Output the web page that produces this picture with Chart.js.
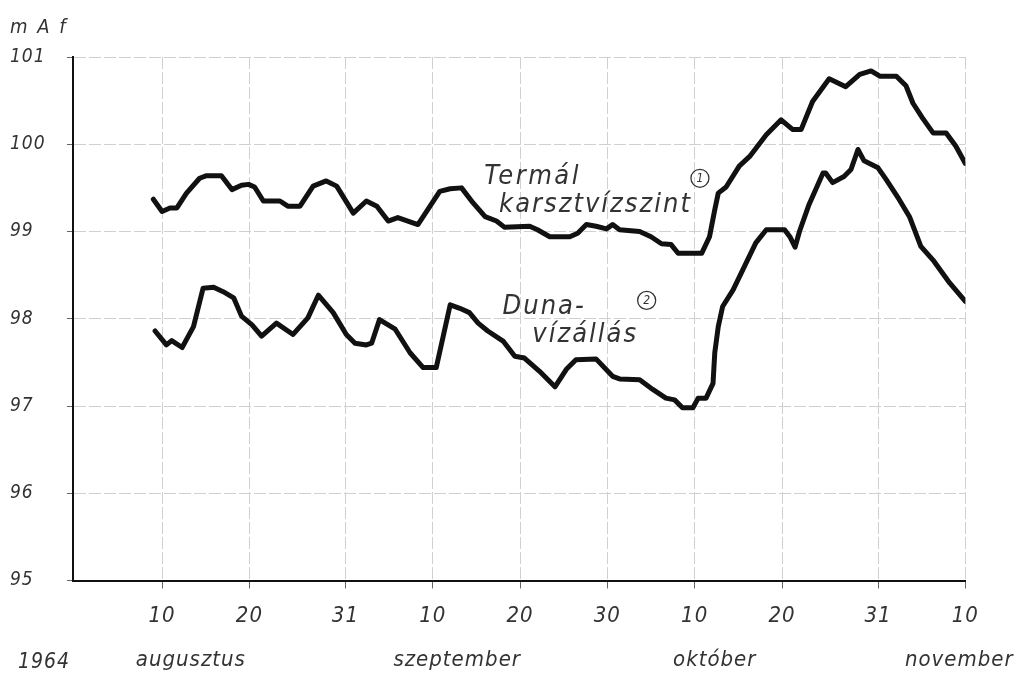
<!DOCTYPE html>
<html>
<head>
<meta charset="utf-8">
<title>Termál karsztvízszint és Duna-vízállás, 1964</title>
<script src="https://cdn.jsdelivr.net/npm/chart.js@4.4.1/dist/chart.umd.min.js"></script>
<style>
  html, body { margin: 0; padding: 0; background: #fff; }
  #wrap { width: 1023px; height: 675px; }
</style>
</head>
<body>
<div id="wrap"><canvas id="chart"></canvas></div>
<script>
// x = days counted from 10 August 1964
const tickDays   = [0, 10, 21, 31, 41, 51, 61, 71, 82, 92];
const tickLabels = ['10', '20', '31', '10', '20', '30', '10', '20', '31', '10'];
const monthDays   = [3.3, 33.8, 63.3, 91.3];
const monthLabels = ['augusztus', 'szeptember', 'október', 'november'];

// (1) Termál karsztvízszint, m A f
const thermDays = [-1, 0, 0.9, 1.7, 2.8, 4.3, 5.1, 6.8, 8.0, 9.1, 9.9, 10.6, 11.6, 13.5, 14.4,
  15.8, 17.3, 18.8, 20.0, 21.9, 23.4, 24.6, 25.9, 27.0, 29.3, 30.3, 31.8, 33.0, 34.3, 35.6,
  37.0, 38.3, 39.2, 42.1, 43.0, 44.4, 46.7, 47.6, 48.6, 49.7, 50.9, 51.6, 52.4, 54.7, 56.0,
  57.2, 58.3, 59.1, 61.8, 62.7, 63.3, 63.7, 64.6, 66.1, 67.3, 69.2, 70.9, 72.2, 73.2, 74.5,
  76.4, 78.3, 79.9, 81.2, 82.2, 84.1, 85.2, 86.0, 87.1, 88.3, 89.8, 90.9, 92];
const thermLevels = [99.37, 99.23, 99.27, 99.27, 99.44, 99.61, 99.64, 99.64, 99.48, 99.53, 99.54, 99.51, 99.35, 99.35, 99.29,
  99.29, 99.52, 99.58, 99.52, 99.21, 99.35, 99.29, 99.12, 99.16, 99.08, 99.23, 99.46, 99.49, 99.50, 99.33,
  99.17, 99.12, 99.05, 99.06, 99.02, 98.94, 98.94, 98.98, 99.08, 99.06, 99.03, 99.08, 99.02, 99.00, 98.94,
  98.86, 98.85, 98.75, 98.75, 98.94, 99.25, 99.44, 99.51, 99.75, 99.86, 100.11, 100.28, 100.17, 100.17, 100.49,
  100.75, 100.66, 100.80, 100.84, 100.78, 100.78, 100.67, 100.47, 100.30, 100.13, 100.13, 99.98, 99.78];

// (2) Duna-vízállás, m A f
const dunaDays = [-0.8, 0.5, 1.1, 2.3, 3.6, 4.7, 5.9, 7.0, 8.2, 9.1, 10.3, 11.4, 13.1, 15.0, 16.7,
  17.9, 19.6, 21.1, 22.1, 23.4, 24.0, 24.9, 26.7, 28.4, 29.9, 31.4, 32.2, 33.0, 34.1, 35.2,
  36.2, 37.3, 39.1, 40.4, 41.5, 43.2, 45.0, 46.3, 47.4, 49.7, 51.6, 52.4, 54.7, 56.2, 57.7,
  58.7, 59.6, 60.8, 61.4, 62.3, 63.1, 63.3, 63.7, 64.2, 65.4, 66.7, 68.0, 69.2, 71.3, 71.9,
  72.5, 73.0, 74.1, 75.7, 76.0, 76.8, 78.1, 78.9, 79.7, 80.4, 82.0, 82.9, 84.4, 85.6, 86.9,
  88.4, 90.2, 92];
const dunaLevels = [97.86, 97.70, 97.75, 97.67, 97.91, 98.35, 98.36, 98.31, 98.24, 98.03, 97.93, 97.80, 97.95, 97.82, 98.01,
  98.27, 98.07, 97.82, 97.72, 97.70, 97.72, 97.99, 97.88, 97.61, 97.44, 97.44, 97.80, 98.16, 98.12, 98.07,
  97.95, 97.86, 97.74, 97.57, 97.55, 97.40, 97.22, 97.42, 97.53, 97.54, 97.34, 97.31, 97.30, 97.19, 97.09,
  97.07, 96.98, 96.98, 97.09, 97.09, 97.26, 97.61, 97.91, 98.14, 98.33, 98.60, 98.87, 99.02, 99.02, 98.94,
  98.82, 99.00, 99.31, 99.67, 99.67, 99.56, 99.63, 99.71, 99.94, 99.81, 99.73, 99.60, 99.37, 99.17, 98.83,
  98.66, 98.41, 98.20];

const FONT = '"DejaVu Sans Condensed", "Liberation Sans Narrow", "DejaVu Sans", sans-serif';
const inkColor = '#333';
const gridColor = '#d0d0d0';

const toPoints = (xs, ys) => xs.map((d, i) => ({ x: d, y: ys[i] }));

// stencil lettering is spaced wide
const spacing = {
  id: 'spacing',
  beforeDraw(chart) { chart.ctx.letterSpacing = '1px'; }
};

// hand lettering placed on the plot (day, level anchors)
const notes = {
  id: 'notes',
  afterDatasetsDraw(chart) {
    const { ctx, scales: { x, y } } = chart;
    ctx.save();
    ctx.fillStyle = inkColor;
    ctx.strokeStyle = inkColor;
    ctx.textBaseline = 'alphabetic';
    ctx.font = 'italic 27px ' + FONT;
    ctx.letterSpacing = '2.5px';
    ctx.fillText('Termál', x.getPixelForValue(36.9), y.getPixelForValue(99.54));
    ctx.letterSpacing = '2px';
    ctx.fillText('karsztvízszint', x.getPixelForValue(38.6), y.getPixelForValue(99.22));
    ctx.fillText('Duna-', x.getPixelForValue(39.0), y.getPixelForValue(98.05));
    ctx.fillText('vízállás', x.getPixelForValue(42.4), y.getPixelForValue(97.73));
    ctx.letterSpacing = '0px';
    [[61.6, 99.61, '1'], [55.5, 98.21, '2']].forEach(([d, v, n]) => {
      const cx = x.getPixelForValue(d), cy = y.getPixelForValue(v);
      ctx.lineWidth = 1.3;
      ctx.beginPath();
      ctx.arc(cx, cy, 9, 0, Math.PI * 2);
      ctx.stroke();
      ctx.font = 'italic 12px ' + FONT;
      ctx.textAlign = 'center';
      ctx.textBaseline = 'middle';
      ctx.fillText(n, cx, cy + 0.5);
      ctx.textAlign = 'left';
      ctx.textBaseline = 'alphabetic';
    });
    // unit and year
    ctx.letterSpacing = '2px';
    ctx.font = 'italic 20px ' + FONT;
    ctx.fillText('m A f', 10, 33);
    ctx.letterSpacing = '1px';
    ctx.font = 'italic 21px ' + FONT;
    ctx.fillText('1964', 18, 668);
    ctx.restore();
  }
};

new Chart(document.getElementById('chart'), {
  type: 'line',
  data: {
    datasets: [
      { label: 'Termál karsztvízszint', data: toPoints(thermDays, thermLevels) },
      { label: 'Duna-vízállás', data: toPoints(dunaDays, dunaLevels) }
    ]
  },
  options: {
    responsive: true,
    maintainAspectRatio: false,
    animation: false,
    layout: { padding: { left: 10, right: 57, top: 57, bottom: 0 } },
    elements: {
      line: { borderColor: '#111', borderWidth: 5, tension: 0, borderJoinStyle: 'round', borderCapStyle: 'round' },
      point: { radius: 0, hoverRadius: 0 }
    },
    plugins: { legend: { display: false }, tooltip: { enabled: false } },
    scales: {
      x: {
        type: 'linear',
        min: -10.2,
        max: 92,
        weight: 0,
        afterBuildTicks: axis => { axis.ticks = tickDays.map(v => ({ value: v })); },
        afterFit: axis => { axis.height = 54; },
        grid: { color: gridColor, lineWidth: 1, tickLength: 8, tickColor: '#666' },
        border: { display: true, color: '#111', width: 2, dash: [12, 3] },
        ticks: {
          autoSkip: false,
          maxRotation: 0,
          padding: 15,
          color: inkColor,
          font: { family: FONT, size: 22, style: 'italic' },
          callback: (v, i) => tickLabels[i]
        }
      },
      x2: {
        type: 'linear',
        position: 'bottom',
        min: -10.2,
        max: 92,
        weight: 1,
        afterBuildTicks: axis => { axis.ticks = monthDays.map(v => ({ value: v })); },
        afterFit: axis => { axis.height = 40.5; },
        grid: { display: false, drawTicks: false },
        border: { display: false },
        ticks: {
          autoSkip: false,
          maxRotation: 0,
          padding: 13,
          color: inkColor,
          font: { family: FONT, size: 22, style: 'italic' },
          callback: (v, i) => monthLabels[i]
        }
      },
      y: {
        min: 95,
        max: 101,
        afterFit: axis => { axis.width = 63; },
        grid: { color: gridColor, lineWidth: 1, tickLength: 6, tickColor: '#666' },
        border: { display: true, color: '#111', width: 2, dash: [12, 3] },
        ticks: {
          stepSize: 1,
          crossAlign: 'far',
          padding: 4,
          color: inkColor,
          font: { family: FONT, size: 19, style: 'italic' }
        }
      }
    }
  },
  plugins: [spacing, notes]
});
</script>
</body>
</html>
